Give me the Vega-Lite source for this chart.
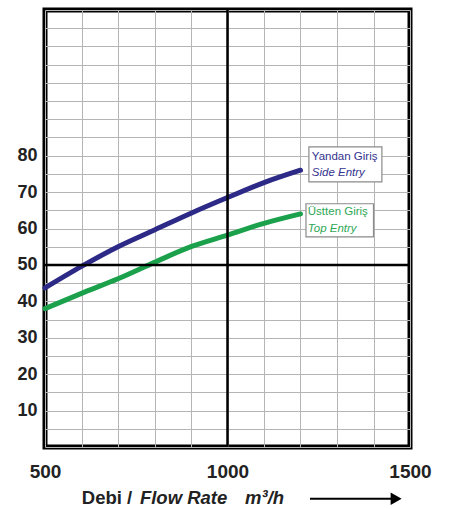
{
  "$schema": "https://vega.github.io/schema/vega-lite/v6.json",
  "width": 365,
  "height": 437,
  "autosize": {"type": "none"},
  "padding": {"left": 45, "top": 10, "right": 41, "bottom": 62},
  "background": "white",
  "config": {
    "view": {"stroke": "black", "strokeWidth": 5},
    "font": "Liberation Sans"
  },
  "resolve": {"axis": {"x": "independent", "y": "independent"}},
  "datasets": {
    "curves": [
      {"series": "Side Entry", "flow": 500, "p": 43.7},
      {"series": "Side Entry", "flow": 600, "p": 49.6},
      {"series": "Side Entry", "flow": 700, "p": 55.0},
      {"series": "Side Entry", "flow": 800, "p": 59.6},
      {"series": "Side Entry", "flow": 900, "p": 64.2},
      {"series": "Side Entry", "flow": 1000, "p": 68.5},
      {"series": "Side Entry", "flow": 1100, "p": 72.6},
      {"series": "Side Entry", "flow": 1200, "p": 76.0},
      {"series": "Top Entry", "flow": 500, "p": 38.0},
      {"series": "Top Entry", "flow": 600, "p": 42.2},
      {"series": "Top Entry", "flow": 700, "p": 46.2},
      {"series": "Top Entry", "flow": 800, "p": 50.7},
      {"series": "Top Entry", "flow": 900, "p": 55.0},
      {"series": "Top Entry", "flow": 1000, "p": 58.2},
      {"series": "Top Entry", "flow": 1100, "p": 61.4},
      {"series": "Top Entry", "flow": 1200, "p": 64.0}
    ]
  },
  "layer": [
    {
      "data": {"name": "curves"},
      "mark": {"type": "line", "strokeWidth": 5, "interpolate": "monotone", "strokeCap": "round"},
      "encoding": {
        "x": {
          "field": "flow", "type": "quantitative", "title": null,
          "scale": {"domain": [500, 1500], "nice": false, "zero": false},
          "axis": {
            "values": [500, 600, 700, 800, 900, 1000, 1100, 1200, 1300, 1400, 1500],
            "labelExpr": "datum.value % 500 == 0 ? datum.label : ''",
            "format": "d",
            "grid": true, "gridColor": "#b5b5b5", "gridWidth": 1, "gridOpacity": 1,
            "ticks": false, "domain": false,
            "labelFlush": false, "labelOverlap": false,
            "labelFont": "Liberation Sans", "labelFontWeight": "bold", "labelFontSize": 19,
            "labelColor": "#222", "labelPadding": 15
          }
        },
        "y": {
          "field": "p", "type": "quantitative", "title": null,
          "scale": {"domain": [0, 120], "nice": false},
          "axis": {
            "values": [0, 5, 10, 15, 20, 25, 30, 35, 40, 45, 50, 55, 60, 65, 70, 75, 80, 85, 90, 95, 100, 105, 110, 115, 120],
            "labelExpr": "(datum.value % 10 == 0 && datum.value > 0 && datum.value <= 80) ? datum.label : ''",
            "grid": true, "gridColor": "#b5b5b5", "gridWidth": 1, "gridOpacity": 1,
            "ticks": false, "domain": false,
            "labelFlush": false, "labelOverlap": false,
            "labelFont": "Liberation Sans", "labelFontWeight": "bold", "labelFontSize": 18,
            "labelColor": "#222", "labelPadding": 8
          }
        },
        "color": {
          "field": "series", "type": "nominal",
          "scale": {"domain": ["Side Entry", "Top Entry"], "range": ["#2d2a87", "#1ba14c"]},
          "legend": null
        }
      }
    },
    {
      "data": {"values": [{"x": 1000}]},
      "mark": {"type": "rule", "color": "black", "strokeWidth": 2.5},
      "encoding": {"x": {"field": "x", "type": "quantitative", "axis": null}}
    },
    {
      "data": {"values": [{"y": 50}]},
      "mark": {"type": "rule", "color": "black", "strokeWidth": 2.5},
      "encoding": {"y": {"field": "y", "type": "quantitative", "axis": null}}
    },
    {
      "data": {"values": [
        {"x": 1223, "x2": 1423, "y": 82.4, "y2": 72.8},
        {"x": 1215, "x2": 1400, "y": 66.8, "y2": 57.7}
      ]},
      "mark": {"type": "rect", "fill": "white", "stroke": "#8a8a8a", "strokeWidth": 1.2},
      "encoding": {
        "x": {"field": "x", "type": "quantitative", "axis": null},
        "x2": {"field": "x2"},
        "y": {"field": "y", "type": "quantitative", "axis": null},
        "y2": {"field": "y2"}
      }
    },
    {
      "data": {"values": [{"t": "Yandan Giriş", "x": 1231, "y": 78.7}]},
      "mark": {"type": "text", "align": "left", "baseline": "alphabetic", "fontSize": 11.5, "color": "#35338e"},
      "encoding": {"x": {"field": "x", "type": "quantitative", "axis": null}, "y": {"field": "y", "type": "quantitative", "axis": null}, "text": {"field": "t"}}
    },
    {
      "data": {"values": [{"t": "Side Entry", "x": 1231, "y": 74.4}]},
      "mark": {"type": "text", "align": "left", "baseline": "alphabetic", "fontSize": 11.5, "fontStyle": "italic", "color": "#35338e"},
      "encoding": {"x": {"field": "x", "type": "quantitative", "axis": null}, "y": {"field": "y", "type": "quantitative", "axis": null}, "text": {"field": "t"}}
    },
    {
      "data": {"values": [{"t": "Üstten Giriş", "x": 1220, "y": 63.6}]},
      "mark": {"type": "text", "align": "left", "baseline": "alphabetic", "fontSize": 11.5, "color": "#2ea856"},
      "encoding": {"x": {"field": "x", "type": "quantitative", "axis": null}, "y": {"field": "y", "type": "quantitative", "axis": null}, "text": {"field": "t"}}
    },
    {
      "data": {"values": [{"t": "Top Entry", "x": 1220, "y": 59.1}]},
      "mark": {"type": "text", "align": "left", "baseline": "alphabetic", "fontSize": 11.5, "fontStyle": "italic", "color": "#2ea856"},
      "encoding": {"x": {"field": "x", "type": "quantitative", "axis": null}, "y": {"field": "y", "type": "quantitative", "axis": null}, "text": {"field": "t"}}
    },
    {
      "data": {"values": [{"t": "Debi /", "x": 601, "y": -15.7}]},
      "mark": {"type": "text", "align": "left", "baseline": "alphabetic", "fontSize": 18.5, "fontWeight": "bold", "color": "#222"},
      "encoding": {"x": {"field": "x", "type": "quantitative", "axis": null}, "y": {"field": "y", "type": "quantitative", "axis": null}, "text": {"field": "t"}}
    },
    {
      "data": {"values": [{"t": "Flow Rate", "x": 760, "y": -15.7}, {"t": "m³/h", "x": 1048, "y": -15.7}]},
      "mark": {"type": "text", "align": "left", "baseline": "alphabetic", "fontSize": 18.5, "fontWeight": "bold", "fontStyle": "italic", "color": "#222"},
      "encoding": {"x": {"field": "x", "type": "quantitative", "axis": null}, "y": {"field": "y", "type": "quantitative", "axis": null}, "text": {"field": "t"}}
    },
    {
      "data": {"values": [{"x": 1226, "x2": 1455, "y": -14.2}]},
      "mark": {"type": "rule", "color": "black", "strokeWidth": 2},
      "encoding": {"x": {"field": "x", "type": "quantitative", "axis": null}, "x2": {"field": "x2"}, "y": {"field": "y", "type": "quantitative", "axis": null}}
    },
    {
      "data": {"values": [{"x": 1462, "y": -14.2}]},
      "mark": {"type": "point", "shape": "triangle-right", "filled": true, "color": "black", "size": 160, "opacity": 1},
      "encoding": {"x": {"field": "x", "type": "quantitative", "axis": null}, "y": {"field": "y", "type": "quantitative", "axis": null}}
    }
  ]
}
